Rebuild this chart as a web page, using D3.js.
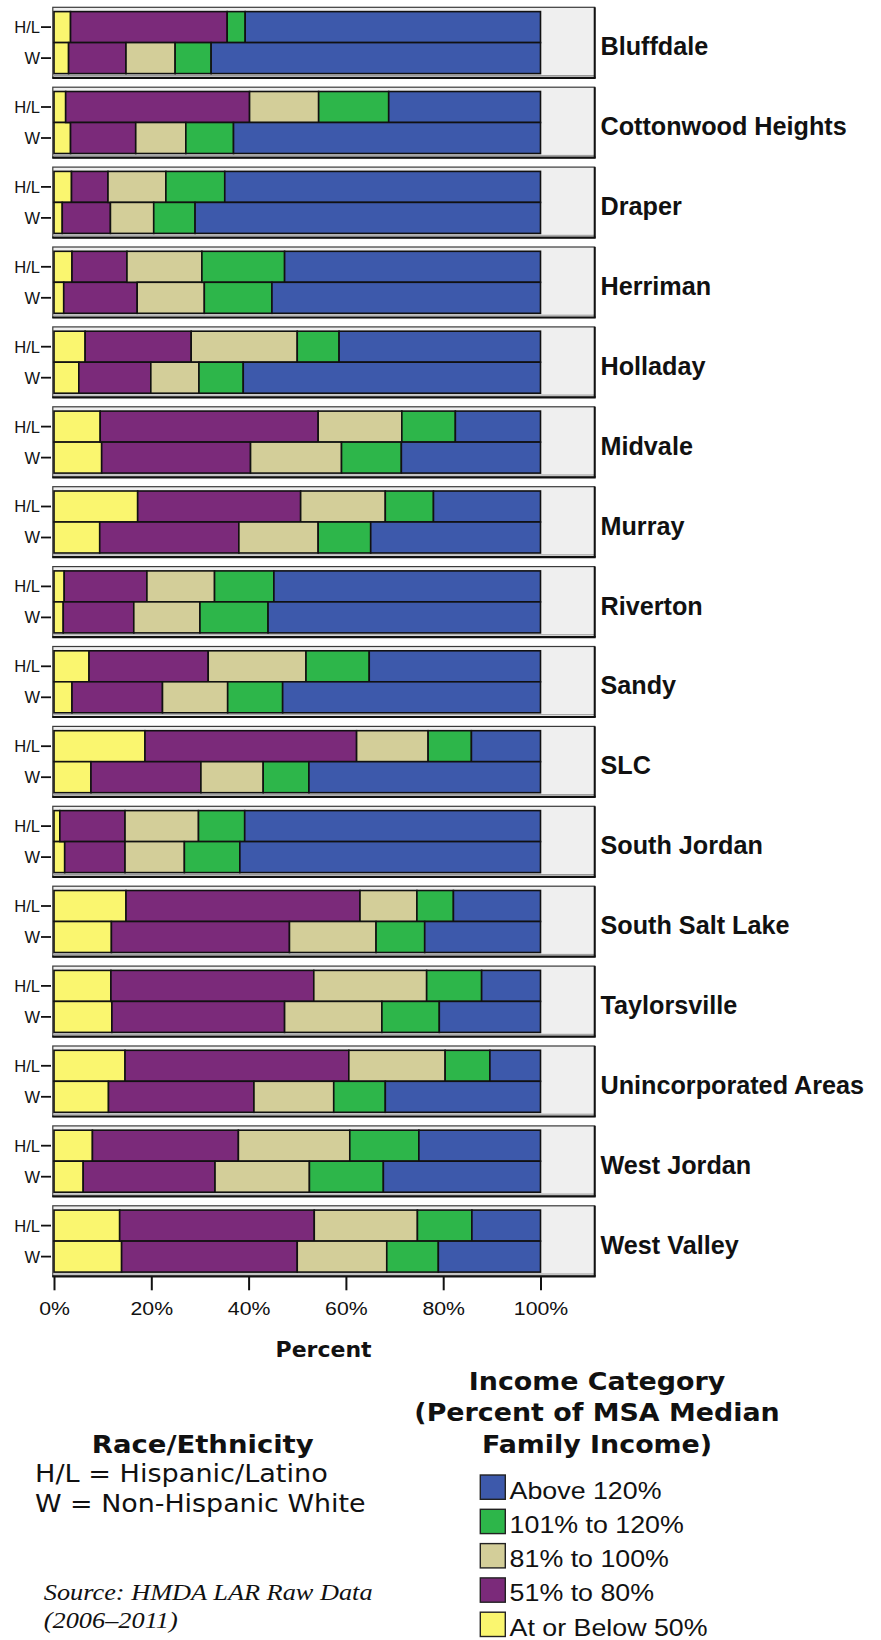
<!DOCTYPE html>
<html>
<head>
<meta charset="utf-8">
<script src="https://cdn.jsdelivr.net/npm/d3@7"></script>
<style>
  html, body { margin: 0; padding: 0; background: #ffffff; }
  svg { display: block; }
</style>
</head>
<body>
<script>
// Home-purchase loan applicants by income category, Salt Lake County jurisdictions
const cities = ["Bluffdale", "Cottonwood Heights", "Draper", "Herriman", "Holladay", "Midvale",
  "Murray", "Riverton", "Sandy", "SLC", "South Jordan", "South Salt Lake", "Taylorsville",
  "Unincorporated Areas", "West Jordan", "West Valley"];
const groups = ["H/L", "W"];

// Shares (%) for Hispanic/Latino applicants
const hlBelow50   = [3.4, 2.4, 3.6, 3.7, 6.4, 9.5, 17.2, 2.1, 7.2, 18.7, 1.2, 14.8, 11.7, 14.6, 7.9, 13.5];
const hl51to80    = [32.2, 37.8, 7.5, 11.3, 21.8, 44.8, 33.5, 17.0, 24.5, 43.5, 13.4, 48.1, 41.7, 46.0, 30.0, 40.0];
const hl81to100   = [0, 14.2, 11.9, 15.4, 21.8, 17.2, 17.4, 13.9, 20.1, 14.7, 15.1, 11.7, 23.2, 19.8, 22.9, 21.2];
const hl101to120  = [3.7, 14.4, 12.1, 17.0, 8.6, 11.0, 9.9, 12.2, 13.0, 8.9, 9.5, 7.5, 11.3, 9.2, 14.2, 11.2];
const hlAbove120  = [60.7, 31.2, 64.9, 52.6, 41.4, 17.5, 22.0, 54.8, 35.2, 14.2, 60.8, 17.9, 12.1, 10.4, 25.0, 14.1];

// Shares (%) for non-Hispanic White applicants
const wBelow50    = [3.0, 3.4, 1.7, 2.0, 5.1, 9.8, 9.4, 1.9, 3.7, 7.6, 2.2, 11.8, 11.9, 11.2, 6.0, 13.9];
const w51to80     = [11.8, 13.4, 9.9, 15.1, 14.8, 30.6, 28.6, 14.5, 18.6, 22.6, 12.4, 36.6, 35.5, 29.9, 27.1, 36.1];
const w81to100    = [10.1, 10.3, 8.9, 13.8, 9.9, 18.7, 16.3, 13.6, 13.4, 12.8, 12.2, 17.8, 20.0, 16.4, 19.4, 18.4];
const w101to120   = [7.4, 9.8, 8.5, 13.9, 9.1, 12.3, 10.8, 14.0, 11.3, 9.4, 11.4, 10.0, 11.8, 10.6, 15.2, 10.6];
const wAbove120   = [67.7, 63.1, 71.0, 55.2, 61.1, 28.6, 34.9, 56.0, 53.0, 47.6, 61.8, 23.8, 20.8, 31.9, 32.3, 21.0];

const incomeKeys = ["below50", "p51to80", "p81to100", "p101to120", "above120"];
const incomeLabels = ["At or Below 50%", "51% to 80%", "81% to 100%", "101% to 120%", "Above 120%"];
const incomeColors = ["#FAF66F", "#7B2A7A", "#D3CE99", "#2DB64A", "#3D59AB"];
const xTicks = [0, 20, 40, 60, 80, 100];

// Build one row per city and group
const rows = [];
cities.forEach((c, i) => {
  rows.push({ city: c, group: "H/L", below50: hlBelow50[i], p51to80: hl51to80[i], p81to100: hl81to100[i], p101to120: hl101to120[i], above120: hlAbove120[i] });
  rows.push({ city: c, group: "W", below50: wBelow50[i], p51to80: w51to80[i], p81to100: w81to100[i], p101to120: w101to120[i], above120: wAbove120[i] });
});

const svg = d3.select("body").append("svg").attr("width", 881).attr("height", 1640);

const x = d3.scaleLinear().domain([0, 100]).range([54, 540.5]);
const yCity = d3.scaleBand().domain(cities).range([7.3, 1276.3]).paddingInner(0.1176).paddingOuter(0);
const yGroup = d3.scaleBand().domain(groups).range([4.3, 66.3]);
const color = d3.scaleOrdinal().domain(incomeKeys).range(incomeColors);

const panelLeft = 52.8, panelRight = 594.7;
const sansNarrow = "'Liberation Sans', Arial, sans-serif";
const sansWide = "'DejaVu Sans', Verdana, sans-serif";

const series = d3.stack().keys(incomeKeys)(rows);

// Panels
const panel = svg.append("g").selectAll("g.panel").data(cities).join("g")
  .attr("class", "panel")
  .attr("transform", d => `translate(0,${yCity(d)})`);

panel.append("rect")
  .attr("x", panelLeft).attr("y", 0)
  .attr("width", panelRight - panelLeft).attr("height", yCity.bandwidth())
  .attr("fill", "#EFEFEF").attr("stroke", "#3a3a3a").attr("stroke-width", 1.2);
panel.append("line")
  .attr("x1", panelLeft + 1).attr("x2", panelRight)
  .attr("y1", yCity.bandwidth() - 2.3).attr("y2", yCity.bandwidth() - 2.3)
  .attr("stroke", "#9a9a9a").attr("stroke-width", 1);
panel.append("line")
  .attr("x1", panelLeft - 0.5).attr("x2", panelRight + 1)
  .attr("y1", yCity.bandwidth()).attr("y2", yCity.bandwidth())
  .attr("stroke", "#111").attr("stroke-width", 2.2);
panel.append("line")
  .attr("x1", panelRight).attr("x2", panelRight)
  .attr("y1", 0).attr("y2", yCity.bandwidth())
  .attr("stroke", "#111").attr("stroke-width", 2);

// Group ticks and labels to the left of each panel
groups.forEach(g => {
  panel.append("line")
    .attr("x1", 41).attr("x2", 51)
    .attr("y1", yGroup(g) + yGroup.bandwidth() / 2).attr("y2", yGroup(g) + yGroup.bandwidth() / 2)
    .attr("stroke", "#111").attr("stroke-width", 1.8);
  panel.append("text")
    .attr("x", 40).attr("y", yGroup(g) + yGroup.bandwidth() / 2 + 6)
    .attr("text-anchor", "end")
    .attr("font-family", sansNarrow)
    .attr("font-size", 16.5)
    .attr("fill", "#111")
    .text(g);
});

// City names
panel.append("text")
  .attr("x", 600.5).attr("y", 48)
  .attr("font-family", sansNarrow)
  .attr("font-weight", "bold")
  .attr("font-size", 25.2)
  .attr("fill", "#111")
  .text(d => d);

// Stacked bars
svg.append("g").selectAll("g.series").data(series).join("g")
  .attr("fill", d => color(d.key))
  .selectAll("rect").data(d => d).join("rect")
  .attr("x", d => x(d[0]))
  .attr("width", d => x(d[1]) - x(d[0]))
  .attr("y", d => yCity(d.data.city) + yGroup(d.data.group))
  .attr("height", yGroup.bandwidth())
  .attr("stroke", "#111").attr("stroke-width", 1.6);

// Percent axis
const axis = svg.append("g")
  .attr("transform", `translate(0,${yCity(cities[cities.length - 1]) + yCity.bandwidth()})`)
  .call(d3.axisBottom(x).tickValues(xTicks).tickFormat(d => d + "%").tickSize(14).tickPadding(0));
axis.select(".domain").remove();
axis.selectAll(".tick line").attr("stroke", "#111").attr("stroke-width", 2);
axis.selectAll(".tick text")
  .attr("y", 38.5).attr("dy", null)
  .attr("font-family", sansNarrow)
  .attr("font-size", 18.5)
  .attr("fill", "#111")
  .attr("transform", "scale(1.15,1)");

svg.append("text")
  .attr("x", 323.6).attr("y", 1357)
  .attr("text-anchor", "middle")
  .attr("font-family", sansWide)
  .attr("font-weight", "bold").attr("font-size", 22)
  .attr("fill", "#111")
  .text("Percent");

// Helper for horizontally widened text
function wideText(parent, str, px, py, opts) {
  return parent.append("text")
    .attr("transform", `translate(${px},${py}) scale(${opts.sx || 1},1)`)
    .attr("text-anchor", opts.anchor || "start")
    .attr("font-family", opts.family || sansWide)
    .attr("font-weight", opts.weight || "normal")
    .attr("font-style", opts.style || "normal")
    .attr("font-size", opts.size)
    .attr("fill", "#111")
    .text(str);
}

// Race/ethnicity key
wideText(svg, "Race/Ethnicity", 202.7, 1453.3, { anchor: "middle", weight: "bold", size: 25, sx: 1.1 });
wideText(svg, "H/L = Hispanic/Latino", 35, 1481.7, { size: 24, sx: 1.13 });
wideText(svg, "W = Non-Hispanic White", 35, 1512, { size: 24, sx: 1.12 });

// Source note
const serif = "'Liberation Serif', 'Times New Roman', serif";
wideText(svg, "Source:  HMDA LAR Raw Data", 43.8, 1600, { size: 22.5, sx: 1.17, style: "italic", family: serif });
wideText(svg, "(2006\u20132011)", 43.8, 1628, { size: 22.5, sx: 1.17, style: "italic", family: serif });

// Income category legend
const titleLines = ["Income Category", "(Percent of MSA Median", "Family Income)"];
titleLines.forEach((t, i) => {
  wideText(svg, t, 597, 1390 + i * 31.3, { anchor: "middle", weight: "bold", size: 24, sx: 1.12 });
});

const legendOrder = incomeKeys.slice().reverse();
const legendY = d3.scaleBand().domain(legendOrder).range([1475, 1475 + 34.3 * 5]);
const legendItem = svg.append("g").selectAll("g").data(legendOrder).join("g")
  .attr("transform", d => `translate(480.3,${legendY(d)})`);
legendItem.append("rect")
  .attr("x", 0).attr("y", 0).attr("width", 25).attr("height", 24.3)
  .attr("fill", d => color(d))
  .attr("stroke", "#222").attr("stroke-width", 1.4);
legendItem.each(function (d) {
  wideText(d3.select(this), incomeLabels[incomeKeys.indexOf(d)], 29.3, 23.5, { size: 23.5, sx: 1.14, family: sansNarrow });
});
</script>
</body>
</html>
